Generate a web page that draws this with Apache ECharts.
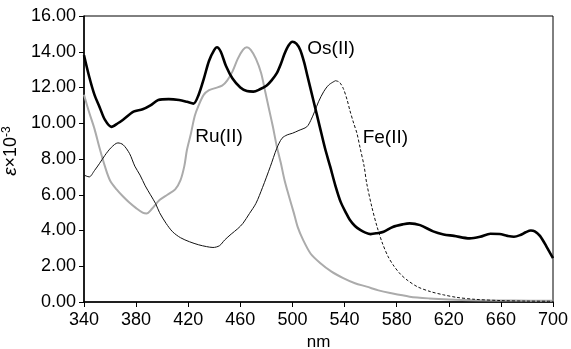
<!DOCTYPE html>
<html>
<head>
<meta charset="utf-8">
<script src="https://cdn.jsdelivr.net/npm/echarts@6/dist/echarts.min.js"></script>
<style>
  html, body { margin: 0; padding: 0; background: #fff; }
  #chart { width: 571px; height: 349px; }
</style>
</head>
<body>
<div id="chart"></div>
<script>
// wavelength (nm) and epsilon x 10^-3
var osNm = [340, 344, 348, 352, 356, 361, 366, 370, 378, 385, 391, 397, 405, 413, 419, 424, 428, 432, 436, 440, 442, 445, 449, 454, 460, 465, 470, 475, 480, 484, 488, 491, 494, 497, 500, 503, 506, 509, 511, 516, 521, 525, 529, 533, 537, 541, 544, 548, 552, 556, 560, 565, 570, 577, 585, 590, 598, 608, 616, 624, 636, 644, 652, 659, 665, 670, 675, 679, 683, 686, 690, 695, 700];
var osVal = [13.8, 12.6, 11.6, 10.9, 10.2, 9.8, 10.0, 10.2, 10.65, 10.78, 11.0, 11.3, 11.35, 11.3, 11.2, 11.1, 11.6, 12.5, 13.5, 14.1, 14.25, 14.0, 13.2, 12.5, 12.0, 11.8, 11.77, 11.9, 12.1, 12.4, 12.8, 13.3, 13.9, 14.35, 14.56, 14.45, 14.1, 13.4, 12.8, 11.3, 9.8, 8.6, 7.57, 6.5, 5.6, 5.0, 4.6, 4.25, 4.03, 3.88, 3.8, 3.85, 3.93, 4.2, 4.35, 4.4, 4.3, 3.95, 3.78, 3.7, 3.56, 3.65, 3.82, 3.8, 3.7, 3.65, 3.75, 3.9, 4.0, 3.95, 3.7, 3.1, 2.45];

var ruNm = [340, 344, 348, 352, 356, 360, 365, 370, 375, 380, 385, 388, 392, 398, 404, 410, 414, 417, 419, 422, 425, 428, 432, 436, 440, 446, 450, 454, 458, 462, 465, 468, 472, 476, 479, 482, 485, 488, 491, 494, 497, 501, 504, 508, 514, 521, 530, 539, 548, 557, 566, 575, 590, 605, 620, 640, 670, 700];
var ruVal = [11.6, 10.6, 9.7, 8.6, 7.6, 6.8, 6.3, 5.9, 5.55, 5.25, 5.0, 4.95, 5.2, 5.7, 6.0, 6.3, 6.8, 7.6, 8.5, 9.4, 10.4, 11.0, 11.6, 11.85, 11.95, 12.1, 12.4, 12.9, 13.6, 14.1, 14.25, 14.1, 13.6, 12.8, 11.8, 10.8, 9.8, 8.7, 7.8, 6.8, 6.0, 5.0, 4.2, 3.5, 2.7, 2.2, 1.7, 1.34, 1.05, 0.86, 0.65, 0.5, 0.3, 0.2, 0.14, 0.1, 0.08, 0.07];

var feNm = [340, 344, 348, 352, 356, 361, 366, 370, 375, 379, 383, 387, 391, 395, 398, 403, 408, 414, 421, 428, 434, 439, 444, 448, 453, 458, 462, 467, 472, 477, 483, 488, 492, 496, 500, 505, 511, 514, 517, 520, 524, 528, 533, 536, 539, 542, 544, 547, 549.5, 552, 555, 557, 561, 565, 569, 573.5, 578, 583, 588, 596, 606, 616, 626, 640, 660, 680, 700];
var feVal = [7.1, 7.0, 7.35, 7.76, 8.2, 8.65, 8.9, 8.8, 8.3, 7.6, 7.1, 6.5, 6.0, 5.5, 5.0, 4.4, 3.93, 3.6, 3.37, 3.2, 3.1, 3.05, 3.15, 3.47, 3.8, 4.1, 4.4, 4.95, 5.52, 6.4, 7.57, 8.6, 9.16, 9.35, 9.44, 9.6, 9.8, 10.15, 10.65, 11.2, 11.77, 12.15, 12.38, 12.3, 11.95, 11.3, 10.74, 10.0, 9.44, 8.6, 7.6, 6.64, 5.3, 4.2, 3.3, 2.53, 2.0, 1.55, 1.23, 0.85, 0.58, 0.4, 0.26, 0.15, 0.08, 0.05, 0.04];
var feDashFrom = 533; // Fe(II) trace is drawn dashed past its maximum

var xTicks = [340, 380, 420, 460, 500, 540, 580, 620, 660, 700];
var yTicks = [0, 2, 4, 6, 8, 10, 12, 14, 16];

// curve labels: [text, nm, epsilon]
var curveLabels = [['Os(II)', 511, 14.15], ['Ru(II)', 425, 9.26], ['Fe(II)', 553.5, 9.2]];

function pairs(xs, ys) {
  return xs.map(function (x, i) { return [x, ys[i]]; });
}

var feAll = pairs(feNm, feVal);
var font = 'Liberation Sans, Arial, sans-serif';

var chart = echarts.init(document.getElementById('chart'));

var option = {
  animation: false,
  textStyle: { fontFamily: font },
  grid: {
    left: 84, right: 18, top: 16, bottom: 47,
    outerBoundsMode: 'none', containLabel: false,
    show: true, borderColor: '#000', borderWidth: 1
  },
  xAxis: {
    type: 'value',
    min: xTicks[0], max: xTicks[xTicks.length - 1], interval: 40,
    name: 'nm', nameLocation: 'middle', nameGap: 30,
    nameTextStyle: { color: '#000', fontSize: 17, fontFamily: font },
    axisLine: { lineStyle: { color: '#000', width: 1.5 } },
    axisTick: { show: true, length: 5, lineStyle: { color: '#000' } },
    axisLabel: { color: '#000', fontSize: 18, margin: 9, fontFamily: font },
    splitLine: { show: false }
  },
  yAxis: {
    type: 'value',
    min: yTicks[0], max: yTicks[yTicks.length - 1], interval: 2,
    name: '{e|ε}×10{s|-3}', nameLocation: 'middle', nameGap: 60,
    nameTextStyle: {
      color: '#000', fontSize: 18, fontFamily: font, padding: [0, 0, 0, 16],
      rich: {
        e: { fontStyle: 'italic', fontSize: 19, fontFamily: font },
        s: { fontSize: 12, verticalAlign: 'top', padding: [0, 0, 8, 0], fontFamily: font }
      }
    },
    axisLine: { show: true, lineStyle: { color: '#000', width: 1.5 } },
    axisTick: { show: true, length: 5, lineStyle: { color: '#000' } },
    axisLabel: {
      color: '#000', fontSize: 18, margin: 8, fontFamily: font,
      formatter: function (v) { return v.toFixed(2); }
    },
    splitLine: { show: false }
  },
  series: [
    {
      name: 'Ru(II)', type: 'line', smooth: 0.3, showSymbol: false,
      data: pairs(ruNm, ruVal),
      lineStyle: { color: '#ababab', width: 2 }
    },
    {
      name: 'Fe(II)', type: 'line', smooth: 0.3, showSymbol: false,
      data: feAll.filter(function (p) { return p[0] <= feDashFrom; }),
      lineStyle: { color: '#111', width: 1 }
    },
    {
      name: 'Fe(II) tail', type: 'line', smooth: 0.3, showSymbol: false,
      data: feAll.filter(function (p) { return p[0] >= feDashFrom; }),
      lineStyle: { color: '#111', width: 1, type: [3, 2] }
    },
    {
      name: 'Os(II)', type: 'line', smooth: 0.3, showSymbol: false,
      data: pairs(osNm, osVal),
      lineStyle: { color: '#000', width: 2.6 },
      markPoint: {
        symbol: 'circle', symbolSize: 1,
        itemStyle: { color: 'rgba(0,0,0,0)' },
        label: { show: true, position: 'right', distance: 0, color: '#000', fontSize: 19, fontFamily: font,
          formatter: function (p) { return p.name; } },
        data: curveLabels.map(function (c) { return { name: c[0], coord: [c[1], c[2]] }; })
      }
    }
  ]
};

chart.setOption(option);
window.addEventListener('resize', function () { chart.resize(); });
</script>
</body>
</html>
